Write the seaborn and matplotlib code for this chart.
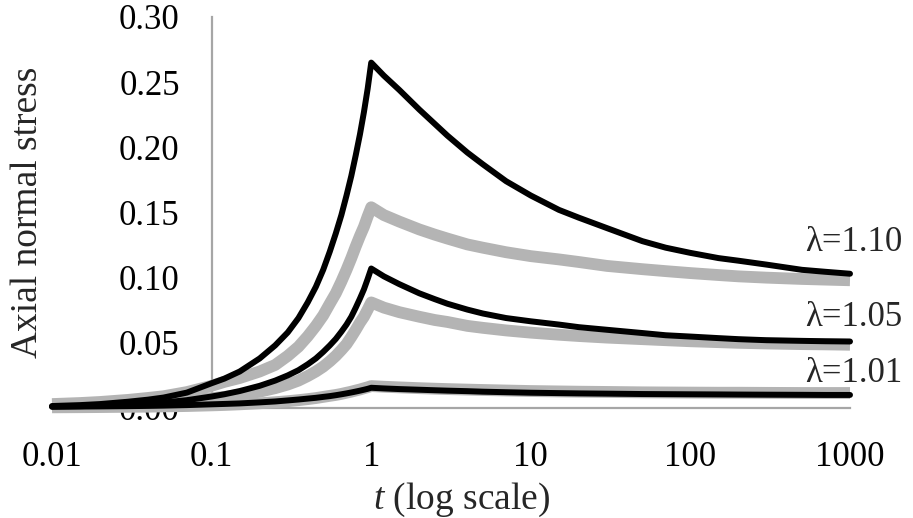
import numpy as np
import pandas as pd
import matplotlib
matplotlib.use("Agg")
import matplotlib.pyplot as plt
import seaborn as sns
from matplotlib.ticker import FixedLocator, FixedFormatter, NullLocator

# time samples: ramp up to t=1, then hold
t_ramp = [0.01, 0.015, 0.02, 0.03, 0.04, 0.05, 0.07, 0.1, 0.12, 0.15, 0.2, 0.25, 0.3, 0.35,
          0.4, 0.45, 0.5, 0.55, 0.6, 0.65, 0.7, 0.75, 0.8, 0.85, 0.9, 0.95, 1.0]
t_hold = [1.2, 1.5, 2, 2.5, 3, 4, 5, 7, 10, 15, 20, 30, 50, 70, 100, 150, 200, 300, 500, 700, 1000]

# black curves
black_110_ramp = [0.0015, 0.0022, 0.003, 0.0048, 0.0064, 0.008, 0.0118, 0.019, 0.0225, 0.028, 0.038, 0.048, 0.058, 0.069,
                  0.081, 0.093, 0.106, 0.120, 0.134, 0.148, 0.163, 0.178, 0.194, 0.210, 0.227, 0.245, 0.265]
black_110_hold = [0.255, 0.244, 0.229, 0.218, 0.209, 0.196, 0.187, 0.174, 0.163, 0.152, 0.146, 0.138, 0.128, 0.123,
                  0.119, 0.115, 0.113, 0.110, 0.106, 0.1045, 0.103]
black_105_ramp = [0.001, 0.0014, 0.0018, 0.0026, 0.0034, 0.0042, 0.006, 0.0088, 0.0105, 0.013, 0.017, 0.021, 0.025, 0.029,
                  0.0335, 0.038, 0.043, 0.048, 0.053, 0.0585, 0.064, 0.070, 0.077, 0.084, 0.091, 0.099, 0.107]
black_105_hold = [0.101, 0.095, 0.088, 0.0835, 0.080, 0.0755, 0.0725, 0.069, 0.0665, 0.064, 0.062, 0.060, 0.0575, 0.0558,
                  0.0548, 0.0536, 0.0528, 0.052, 0.0515, 0.0512, 0.051]
black_101_ramp = [0.001, 0.0011, 0.0012, 0.0014, 0.0016, 0.0018, 0.0022, 0.0028, 0.0031, 0.0035, 0.0043, 0.005, 0.0058, 0.0065,
                  0.0072, 0.0078, 0.0085, 0.0091, 0.0098, 0.0105, 0.0112, 0.0119, 0.0126, 0.0133, 0.014, 0.0147, 0.0155]
black_101_hold = [0.015, 0.0145, 0.014, 0.0136, 0.0133, 0.0129, 0.0125, 0.0121, 0.0117, 0.0114, 0.0112, 0.011, 0.0107, 0.0106,
                  0.0105, 0.0104, 0.0103, 0.0102, 0.0101, 0.0100, 0.010]

# grey curves
grey_110_ramp = [0.003, 0.0038, 0.0046, 0.0062, 0.0077, 0.009, 0.0122, 0.017, 0.020, 0.023, 0.028, 0.033, 0.040, 0.047,
                 0.055, 0.063, 0.071, 0.080, 0.088, 0.097, 0.106, 0.115, 0.124, 0.132, 0.139, 0.147, 0.154]
grey_110_hold = [0.148, 0.143, 0.137, 0.133, 0.130, 0.1255, 0.123, 0.1195, 0.1165, 0.114, 0.112, 0.109, 0.1065, 0.105,
                 0.1035, 0.102, 0.101, 0.100, 0.099, 0.0985, 0.098]
grey_105_ramp = [0.002, 0.0023, 0.0026, 0.0033, 0.004, 0.0047, 0.006, 0.0075, 0.0085, 0.010, 0.0125, 0.0152, 0.018, 0.021,
                 0.0245, 0.028, 0.0317, 0.0358, 0.040, 0.0445, 0.049, 0.0545, 0.060, 0.0655, 0.070, 0.0755, 0.081]
grey_105_hold = [0.077, 0.0735, 0.070, 0.0675, 0.066, 0.063, 0.0615, 0.0595, 0.0578, 0.0562, 0.0552, 0.054, 0.0528, 0.052,
                 0.0512, 0.0505, 0.050, 0.0495, 0.049, 0.0488, 0.0485]
grey_101_ramp = [0.0005, 0.0006, 0.0007, 0.0009, 0.001, 0.0012, 0.0015, 0.002, 0.0023, 0.0028, 0.0036, 0.0044, 0.0052, 0.006,
                 0.0068, 0.0076, 0.0085, 0.0093, 0.010, 0.0108, 0.0117, 0.0125, 0.0134, 0.0142, 0.0151, 0.0159, 0.0168]
grey_101_hold = [0.0163, 0.0158, 0.0152, 0.0148, 0.0145, 0.0141, 0.0138, 0.0134, 0.013, 0.0127, 0.0125, 0.0123, 0.012, 0.0119,
                 0.0118, 0.0117, 0.0117, 0.0116, 0.0115, 0.0115, 0.0115]

lam_labels = ["λ=1.10", "λ=1.05", "λ=1.01"]
lam_label_y = [0.127, 0.0695, 0.0265]

x_ticks = [0.01, 0.1, 1, 10, 100, 1000]
x_ticklabels = ["0.01", "0.1", "1", "10", "100", "1000"]
y_ticks = [0.0, 0.05, 0.10, 0.15, 0.20, 0.25, 0.30]

time = t_ramp + t_hold
grey_curves = [grey_110_ramp + grey_110_hold, grey_105_ramp + grey_105_hold, grey_101_ramp + grey_101_hold]
black_curves = [black_110_ramp + black_110_hold, black_105_ramp + black_105_hold, black_101_ramp + black_101_hold]

sns.set_theme(style="white")
plt.rcParams["font.family"] = ["Liberation Serif", "DejaVu Serif"]
plt.rcParams["mathtext.fontset"] = "custom"
plt.rcParams["mathtext.rm"] = "Liberation Serif"
plt.rcParams["mathtext.it"] = "Liberation Serif:italic"

fig = plt.figure(figsize=(9.13, 5.18), dpi=100)
ax = fig.add_axes([0.057, 0.2124, 0.874, 0.7548])

axis_grey = "#a6a6a6"
line_grey = "#b4b4b4"

# grey (thick) curves under the black ones
for vals in grey_curves:
    sns.lineplot(x=time, y=vals, ax=ax, color=line_grey, linewidth=8.5, sort=False,
                 estimator=None, zorder=3, clip_on=False, solid_capstyle="butt")
for vals in black_curves:
    sns.lineplot(x=time, y=vals, ax=ax, color="black", linewidth=4.3, sort=False,
                 estimator=None, zorder=4, clip_on=False, solid_capstyle="round")

ax.set_xscale("log")
ax.set_xlim(0.01, 1000)
ax.set_ylim(0, 0.30)

ax.xaxis.set_major_locator(FixedLocator(x_ticks))
ax.xaxis.set_major_formatter(FixedFormatter(x_ticklabels))
ax.xaxis.set_minor_locator(NullLocator())
ax.set_yticks(y_ticks)
ax.set_yticklabels([f"{v:.2f}" for v in y_ticks])

for side in ["top", "right"]:
    ax.spines[side].set_visible(False)
# vertical axis crosses at t = 0.1
ax.spines["left"].set_position(("data", 0.1))
for side in ["left", "bottom"]:
    ax.spines[side].set_color(axis_grey)
    ax.spines[side].set_linewidth(1.6)

ax.tick_params(axis="both", which="major", direction="out", length=7, width=1.6,
               color=axis_grey, labelsize=25, labelcolor="black")
ax.tick_params(axis="y", pad=16)
ax.tick_params(axis="x", pad=17)
ax.grid(False)

ax.set_xlabel(r"$t$ (log scale)", fontsize=27)
ax.xaxis.label.set_va("center")
ax.xaxis.set_label_coords(0.514, -0.235)
ax.set_ylabel("Axial normal stress", fontsize=27)
ax.yaxis.label.set_rotation_mode("default")
ax.yaxis.label.set_va("center")
ax.yaxis.label.set_ha("center")
ax.yaxis.set_label_coords(-0.031, 0.5)

trans = ax.get_yaxis_transform()
for lab, yv in zip(lam_labels, lam_label_y):
    ax.text(1.066, yv, lab, transform=trans, ha="right", va="center", fontsize=25, clip_on=False)

fig.savefig("out.png", dpi=100)
